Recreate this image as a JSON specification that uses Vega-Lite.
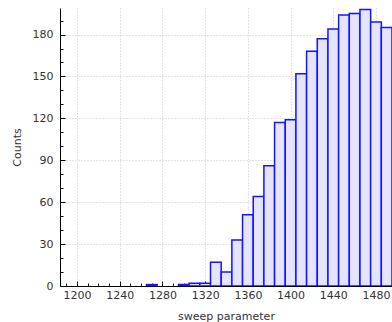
{
  "$schema": "https://vega.github.io/schema/vega-lite/v6.json",
  "width": 332,
  "height": 278,
  "autosize": {"type": "none"},
  "padding": {"left": 60, "top": 8, "right": 0, "bottom": 36},
  "background": "white",
  "config": {
    "view": {"stroke": null},
    "font": "DejaVu Sans",
    "axis": {
      "labelFont": "DejaVu Sans",
      "labelFontSize": 11,
      "labelColor": "#333333",
      "titleFont": "DejaVu Sans",
      "titleFontSize": 11,
      "titleFontWeight": "normal",
      "titleColor": "#333333",
      "domainColor": "#000000",
      "domainWidth": 1,
      "tickColor": "#000000",
      "gridColor": "#c8c8c8",
      "gridDash": [1, 2],
      "gridWidth": 1
    }
  },
  "data": {
    "values": [
      {"lo": 1265, "hi": 1275, "count": 1},
      {"lo": 1295, "hi": 1305, "count": 1},
      {"lo": 1305, "hi": 1315, "count": 2},
      {"lo": 1315, "hi": 1325, "count": 2},
      {"lo": 1325, "hi": 1335, "count": 17},
      {"lo": 1335, "hi": 1345, "count": 10},
      {"lo": 1345, "hi": 1355, "count": 33},
      {"lo": 1355, "hi": 1365, "count": 51},
      {"lo": 1365, "hi": 1375, "count": 64},
      {"lo": 1375, "hi": 1385, "count": 86},
      {"lo": 1385, "hi": 1395, "count": 117},
      {"lo": 1395, "hi": 1405, "count": 119},
      {"lo": 1405, "hi": 1415, "count": 152},
      {"lo": 1415, "hi": 1425, "count": 168},
      {"lo": 1425, "hi": 1435, "count": 177},
      {"lo": 1435, "hi": 1445, "count": 184},
      {"lo": 1445, "hi": 1455, "count": 194},
      {"lo": 1455, "hi": 1465, "count": 195},
      {"lo": 1465, "hi": 1475, "count": 198},
      {"lo": 1475, "hi": 1485, "count": 189},
      {"lo": 1485, "hi": 1495, "count": 185}
    ]
  },
  "mark": {"type": "rect", "fill": "#e4e4ff", "stroke": "#1414ff", "strokeWidth": 1.5, "clip": true},
  "encoding": {
    "x": {
      "field": "lo",
      "type": "quantitative",
      "scale": {"domain": [1184, 1495], "nice": false, "zero": false},
      "axis": {
        "title": "sweep parameter",
        "titlePadding": 8,
        "format": "d",
        "values": [1190, 1200, 1210, 1220, 1230, 1240, 1250, 1260, 1270, 1280, 1290, 1300, 1310, 1320, 1330, 1340, 1350, 1360, 1370, 1380, 1390, 1400, 1410, 1420, 1430, 1440, 1450, 1460, 1470, 1480, 1490],
        "labelExpr": "datum.value % 40 === 0 ? datum.label : ''",
        "labelOverlap": false,
        "labelFlush": false,
        "tickSize": {"condition": {"test": "datum.value % 40 === 0", "value": -5}, "value": -3},
        "labelPadding": 8,
        "gridOpacity": {"condition": {"test": "datum.value % 40 === 0", "value": 1}, "value": 0},
        "grid": true
      }
    },
    "x2": {"field": "hi"},
    "y": {
      "field": "count",
      "type": "quantitative",
      "scale": {"domain": [0, 199], "nice": false},
      "axis": {
        "title": "Counts",
        "titlePadding": 10,
        "format": "d",
        "values": [0, 10, 20, 30, 40, 50, 60, 70, 80, 90, 100, 110, 120, 130, 140, 150, 160, 170, 180, 190],
        "labelExpr": "datum.value % 30 === 0 ? datum.label : ''",
        "labelOverlap": false,
        "labelFlush": false,
        "tickSize": {"condition": {"test": "datum.value % 30 === 0", "value": -5}, "value": -3},
        "labelPadding": 12,
        "gridOpacity": {"condition": {"test": "datum.value % 30 === 0 && datum.value > 0", "value": 1}, "value": 0},
        "grid": true
      }
    },
    "y2": {"datum": 0}
  }
}
